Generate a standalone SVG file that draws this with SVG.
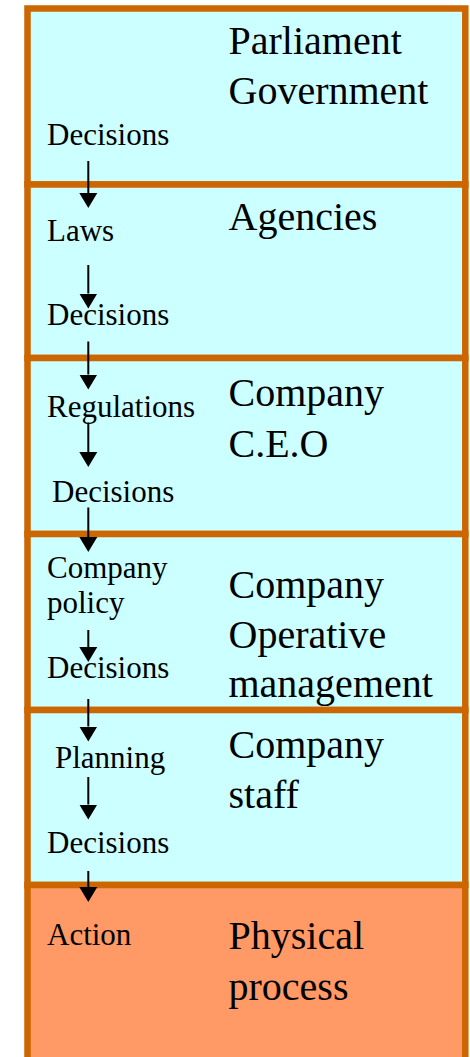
<svg xmlns="http://www.w3.org/2000/svg" width="470" height="1057" viewBox="0 0 470 1057">
<style>
.box{stroke:#CC6600;stroke-width:6.5}
.blue{fill:#CCFFFF}
.orange{fill:#FF9966}
.small{font-family:"Liberation Serif","Times New Roman",serif;font-size:31px;fill:#000}
.big{font-family:"Liberation Serif","Times New Roman",serif;font-size:40px;fill:#000}
.arrow{stroke:#000;stroke-width:2;fill:none;marker-end:url(#head)}
</style>
<defs>
<marker id="head" markerUnits="userSpaceOnUse" markerWidth="16" markerHeight="19" refX="0" refY="9" orient="auto" viewBox="0 0 16 18">
<path d="M0,0 L15,9 L0,18 Z" fill="#000"/>
</marker>
</defs>
<rect width="470" height="1057" fill="#FFFFFF"/>
<g id="parliament">
<rect class="box blue" x="27.5" y="8.5" width="437.8" height="176"/>
<text class="big" x="228.5" y="54">Parliament</text>
<text class="big" x="228.5" y="104">Government</text>
<text class="small" x="47" y="145">Decisions</text>
</g>
<g id="agencies">
<rect class="box blue" x="27.5" y="184.5" width="437.8" height="173.5"/>
<text class="big" x="228.5" y="230">Agencies</text>
<text class="small" x="47" y="240.5">Laws</text>
<text class="small" x="47" y="325">Decisions</text>
</g>
<g id="ceo">
<rect class="box blue" x="27.5" y="358" width="437.8" height="176"/>
<text class="big" x="228.5" y="406">Company</text>
<text class="big" x="228.5" y="456.5">C.E.O</text>
<text class="small" x="47" y="416.5">Regulations</text>
<text class="small" x="52" y="501.5">Decisions</text>
</g>
<g id="operative">
<rect class="box blue" x="27.5" y="534" width="437.8" height="176"/>
<text class="big" x="228.5" y="598">Company</text>
<text class="big" x="228.5" y="647.5">Operative</text>
<text class="big" x="228.5" y="696.5">management</text>
<text class="small" x="47" y="577.5">Company</text>
<text class="small" x="47" y="613">policy</text>
<text class="small" x="47" y="677.5">Decisions</text>
</g>
<g id="staff">
<rect class="box blue" x="27.5" y="710" width="437.8" height="175"/>
<text class="big" x="228.5" y="758">Company</text>
<text class="big" x="228.5" y="808">staff</text>
<text class="small" x="55" y="768">Planning</text>
<text class="small" x="47" y="853">Decisions</text>
</g>
<g id="physical">
<rect class="box orange" x="27.5" y="885" width="437.8" height="180"/>
<text class="big" x="228.5" y="949">Physical</text>
<text class="big" x="228.5" y="1000">process</text>
<text class="small" x="47" y="945">Action</text>
</g>
<g id="connectors">
<line class="arrow" x1="88.3" y1="161" x2="88.3" y2="193"/>
<line class="arrow" x1="88.3" y1="265" x2="88.3" y2="293.5"/>
<line class="arrow" x1="88.3" y1="341.5" x2="88.3" y2="374.5"/>
<line class="arrow" x1="88.3" y1="422.5" x2="88.3" y2="452"/>
<line class="arrow" x1="88.3" y1="507.5" x2="88.3" y2="537"/>
<line class="arrow" x1="88.3" y1="630" x2="88.3" y2="647"/>
<line class="arrow" x1="88.3" y1="699" x2="88.3" y2="726.5"/>
<line class="arrow" x1="88.3" y1="777" x2="88.3" y2="804.5"/>
<line class="arrow" x1="88.3" y1="871" x2="88.3" y2="887"/>
</g>
</svg>
